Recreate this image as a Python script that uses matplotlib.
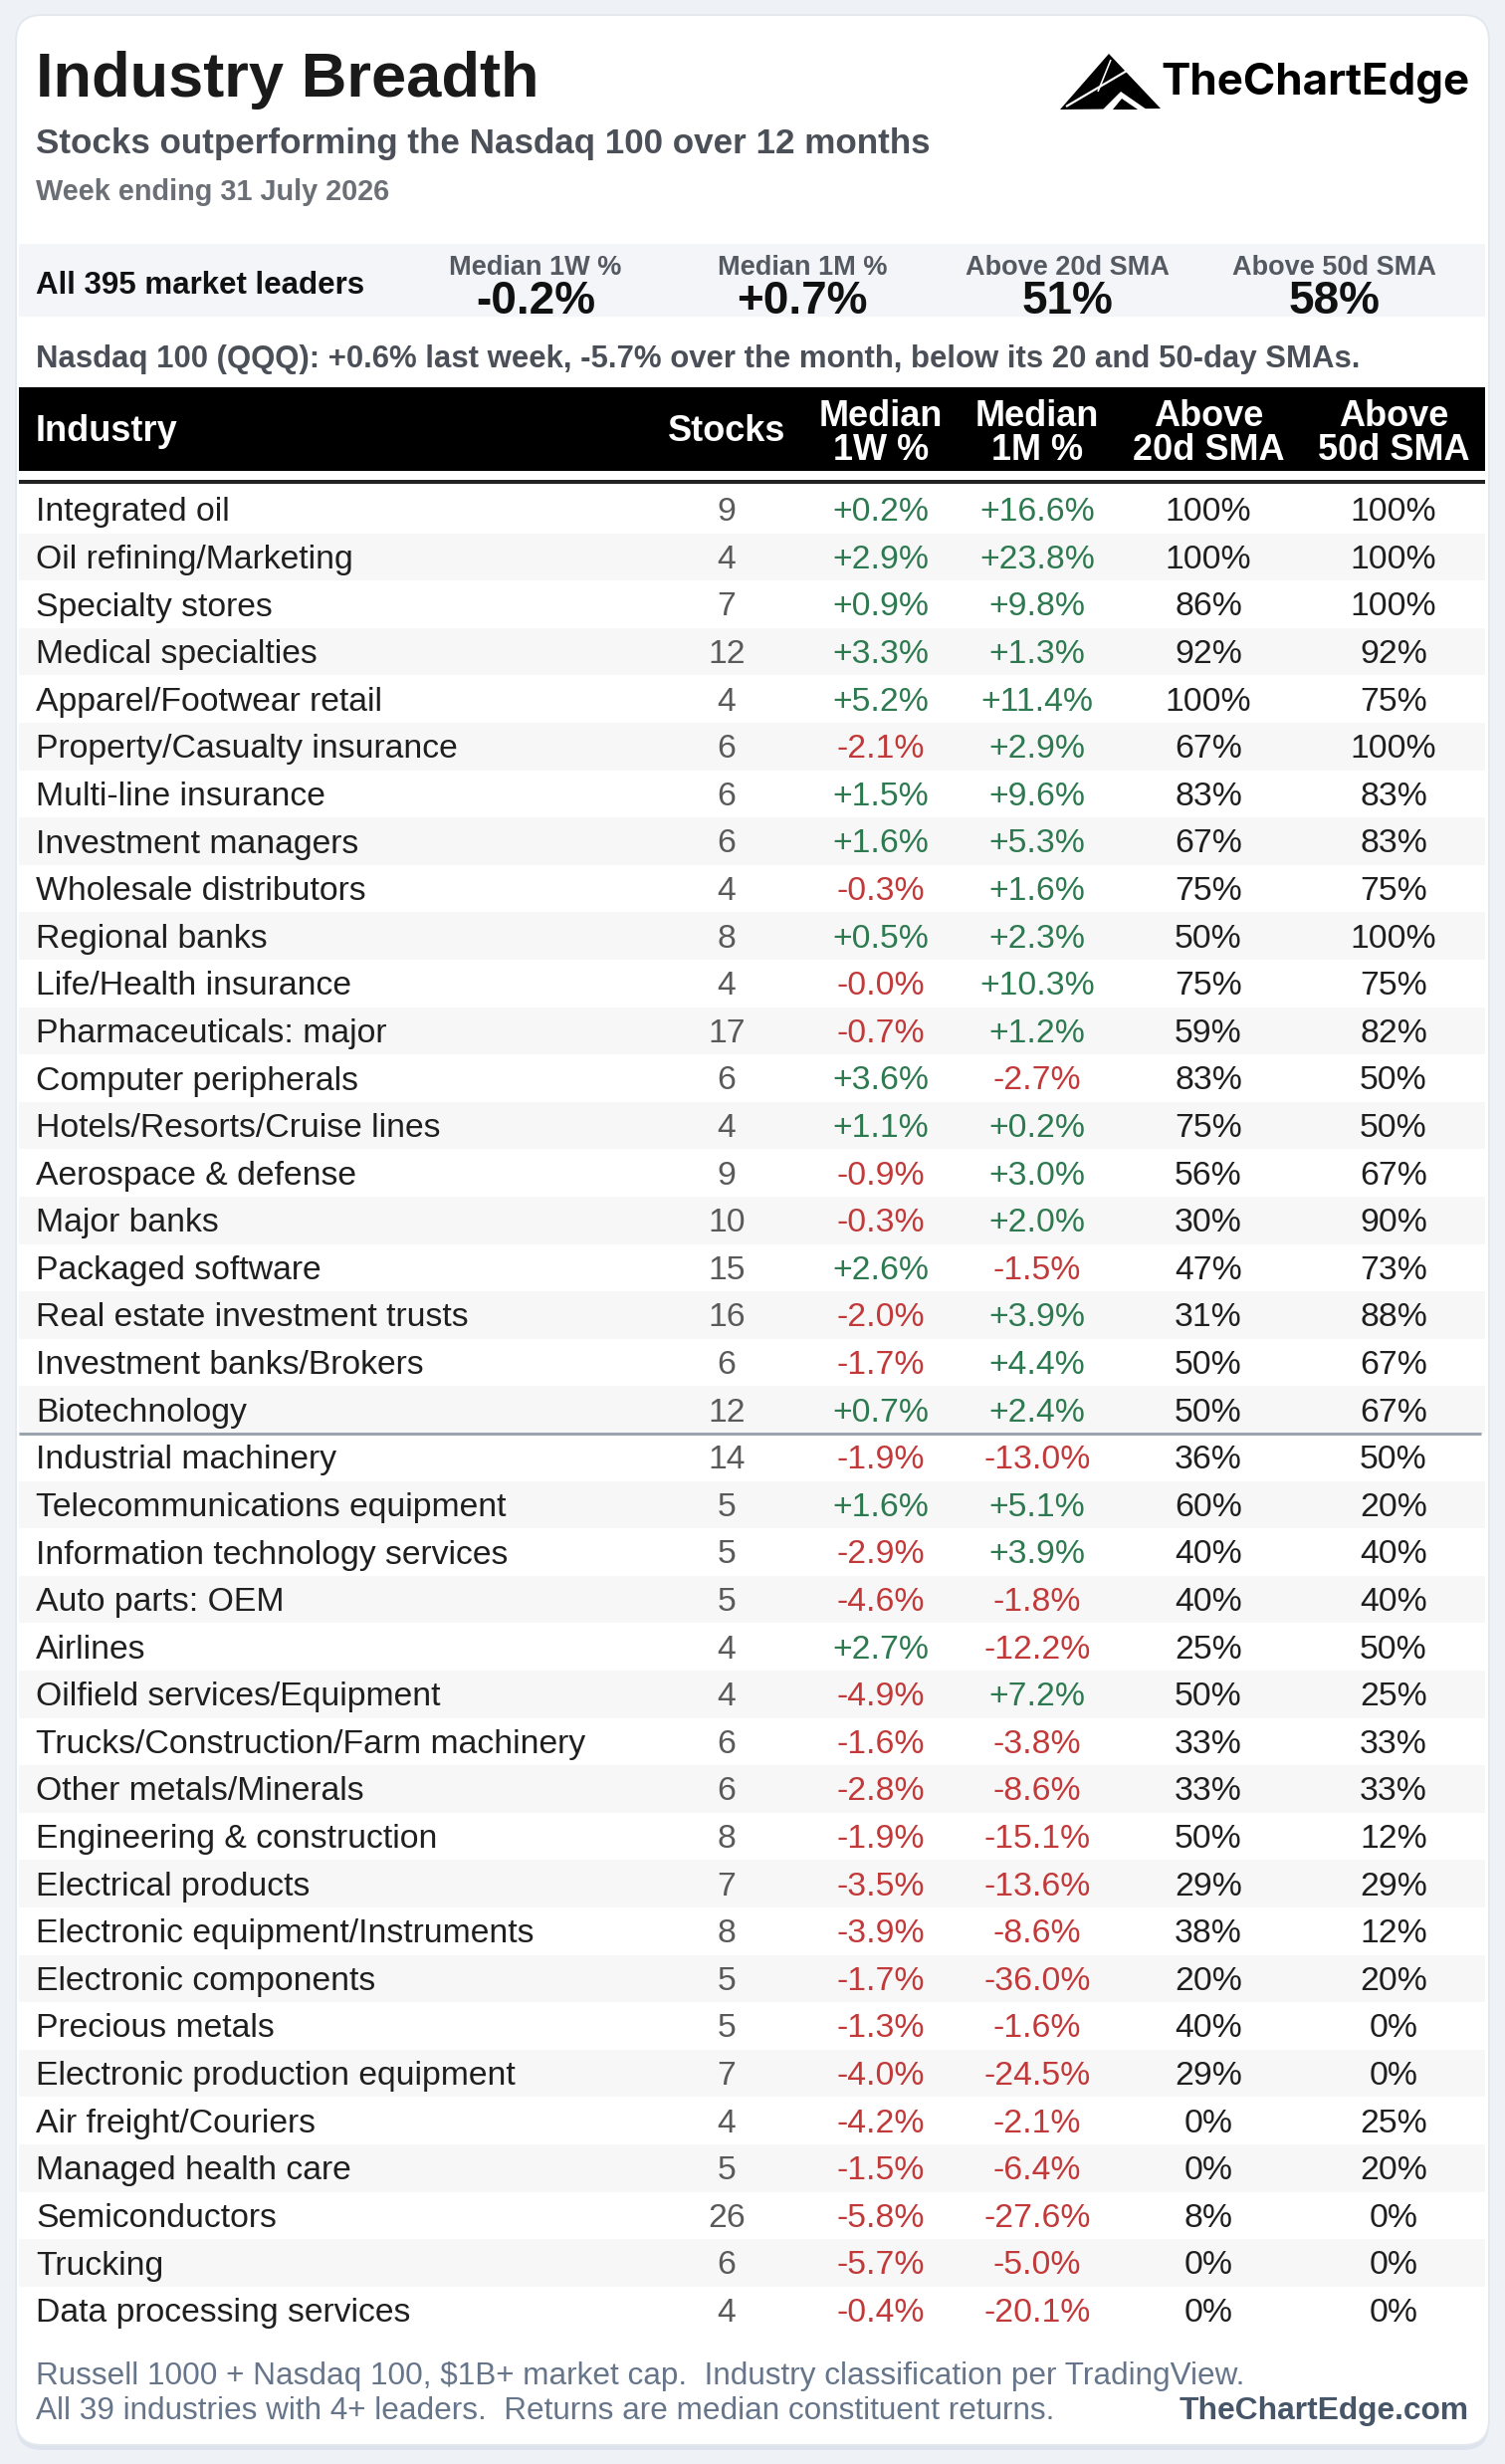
import numpy as np
import matplotlib.pyplot as plt
from matplotlib.patches import FancyBboxPatch, Rectangle, Polygon

# ---- data ----
industries = [
    "Integrated oil", "Oil refining/Marketing", "Specialty stores", "Medical specialties",
    "Apparel/Footwear retail", "Property/Casualty insurance", "Multi-line insurance",
    "Investment managers", "Wholesale distributors", "Regional banks", "Life/Health insurance",
    "Pharmaceuticals: major", "Computer peripherals", "Hotels/Resorts/Cruise lines",
    "Aerospace & defense", "Major banks", "Packaged software", "Real estate investment trusts",
    "Investment banks/Brokers", "Biotechnology", "Industrial machinery",
    "Telecommunications equipment", "Information technology services", "Auto parts: OEM",
    "Airlines", "Oilfield services/Equipment", "Trucks/Construction/Farm machinery",
    "Other metals/Minerals", "Engineering & construction", "Electrical products",
    "Electronic equipment/Instruments", "Electronic components", "Precious metals",
    "Electronic production equipment", "Air freight/Couriers", "Managed health care",
    "Semiconductors", "Trucking", "Data processing services",
]
stocks = [9, 4, 7, 12, 4, 6, 6, 6, 4, 8, 4, 17, 6, 4, 9, 10, 15, 16, 6, 12,
          14, 5, 5, 5, 4, 4, 6, 6, 8, 7, 8, 5, 5, 7, 4, 5, 26, 6, 4]
median_1w = [0.2, 2.9, 0.9, 3.3, 5.2, -2.1, 1.5, 1.6, -0.3, 0.5, -0.0, -0.7, 3.6, 1.1,
             -0.9, -0.3, 2.6, -2.0, -1.7, 0.7, -1.9, 1.6, -2.9, -4.6, 2.7, -4.9, -1.6,
             -2.8, -1.9, -3.5, -3.9, -1.7, -1.3, -4.0, -4.2, -1.5, -5.8, -5.7, -0.4]
median_1m = [16.6, 23.8, 9.8, 1.3, 11.4, 2.9, 9.6, 5.3, 1.6, 2.3, 10.3, 1.2, -2.7, 0.2,
             3.0, 2.0, -1.5, 3.9, 4.4, 2.4, -13.0, 5.1, 3.9, -1.8, -12.2, 7.2, -3.8,
             -8.6, -15.1, -13.6, -8.6, -36.0, -1.6, -24.5, -2.1, -6.4, -27.6, -5.0, -20.1]
above_20d = [100, 100, 86, 92, 100, 67, 83, 67, 75, 50, 75, 59, 83, 75, 56, 30, 47, 31, 50, 50,
             36, 60, 40, 40, 25, 50, 33, 33, 50, 29, 38, 20, 40, 29, 0, 0, 8, 0, 0]
above_50d = [100, 100, 100, 92, 75, 100, 83, 83, 75, 100, 75, 82, 50, 50, 67, 90, 73, 88, 67, 67,
             50, 20, 40, 40, 50, 25, 33, 33, 12, 29, 12, 20, 0, 0, 25, 20, 0, 0, 0]
split_after = 20  # divider line after the top group

summary_labels = ["Median 1W %", "Median 1M %", "Above 20d SMA", "Above 50d SMA"]
summary_values = ["-0.2%", "+0.7%", "51%", "58%"]

title = "Industry Breadth"
subtitle = "Stocks outperforming the Nasdaq 100 over 12 months"
week = "Week ending 31 July 2026"
universe = "All 395 market leaders"
nasdaq_note = "Nasdaq 100 (QQQ): +0.6% last week, -5.7% over the month, below its 20 and 50-day SMAs."
footer1 = "Russell 1000 + Nasdaq 100, $1B+ market cap.  Industry classification per TradingView."
footer2 = "All 39 industries with 4+ leaders.  Returns are median constituent returns."
brand = "TheChartEdge"
site = "TheChartEdge.com"

# ---- styling ----
FONT = "Liberation Sans"
GREEN = "#2e7a50"
RED = "#c2393a"
INK = "#1f1f1f"
GRAY_TXT = "#4a4f58"

W, H = 1512, 2475
fig = plt.figure(figsize=(W / 100, H / 100), dpi=100)
fig.patch.set_facecolor("#eef2f7")
ax = fig.add_axes([0, 0, 1, 1])
ax.set_xlim(0, W)
ax.set_ylim(H, 0)
ax.axis("off")


def txt(x, y, s, size, color=INK, weight="normal", ha="left", family=FONT):
    ax.text(x, y, s, fontsize=size, color=color, fontweight=weight, ha=ha,
            va="baseline", family=family)


def px(v):
    return v * 0.72  # pixel to points for line widths


# card
ax.add_patch(FancyBboxPatch((16, 18), 1480, 2443, boxstyle="round,pad=0,rounding_size=26",
                            fc="#dde3ec", ec="none"))
ax.add_patch(FancyBboxPatch((16, 15), 1480, 2441, boxstyle="round,pad=0,rounding_size=26",
                            fc="white", ec="#e3e8ef", lw=px(2)))

# title block
txt(36, 97, title, 45.5, color="#1a1a1a", weight="bold")
txt(36, 154, subtitle, 25.2, color=GRAY_TXT, weight="bold")
txt(36, 201, week, 20.8, color="#6b6f76", weight="bold")

# logo mark
ax.add_patch(Polygon([(1114, 54), (1065, 110), (1166, 109)], closed=True, fc="black", ec="none"))
ax.plot([1139, 1071], [67, 107], color="white", lw=px(2.2), solid_capstyle="butt")
ax.plot([1116, 1103], [60, 92], color="white", lw=px(1.6), solid_capstyle="butt")
ax.add_patch(Polygon([(1108, 110), (1126, 92), (1152, 110)], closed=True, fc="white", ec="none"))
ax.add_patch(Polygon([(1118, 110), (1127, 99), (1143, 110)], closed=True, fc="black", ec="none"))
txt(1166, 95, brand, 31.6, color="black", weight="bold", family="Inter")

# summary band
ax.add_patch(Rectangle((19, 245), 1473, 73, fc="#f3f5f9", ec="none"))
txt(36, 295, universe, 22.5, weight="bold", color="#111111")
summary_x = [538, 806, 1073, 1341]
for xc, lab, val in zip(summary_x, summary_labels, summary_values):
    txt(xc, 276, lab, 19.5, color="#555a62", weight="bold", ha="center")
    txt(xc, 315, val, 33, color="#111111", weight="bold", ha="center")

txt(36, 369, nasdaq_note, 22.4, color=GRAY_TXT, weight="bold")

# table header
ax.add_patch(Rectangle((19, 389), 1473, 84, fc="black", ec="none"))
col_x = [730, 885, 1042, 1214, 1400]
txt(36, 443, "Industry", 26, color="white", weight="bold")
txt(col_x[0], 443, "Stocks", 26, color="white", weight="bold", ha="center")
two_line = [("Median", "1W %"), ("Median", "1M %"), ("Above", "20d SMA"), ("Above", "50d SMA")]
for xc, (l1, l2) in zip(col_x[1:], two_line):
    txt(xc, 428, l1, 26, color="white", weight="bold", ha="center")
    txt(xc, 462, l2, 26, color="white", weight="bold", ha="center")
ax.plot([19, 1492], [483.5, 483.5], color="#222222", lw=px(4), solid_capstyle="butt")

# rows
row_top, row_h = 488, 47.6
for i, name in enumerate(industries):
    top = row_top + i * row_h
    if i % 2 == 1:
        ax.add_patch(Rectangle((19, top), 1473, row_h, fc="#f7f7f7", ec="none"))
    base = top + row_h / 2 + 11.5
    txt(36, base, name, 24.3, color=INK)
    txt(col_x[0], base, f"{stocks[i]}", 24.3, color="#5a5a5a", ha="center")
    for xc, v in ((col_x[1], median_1w[i]), (col_x[2], median_1m[i])):
        c = RED if np.signbit(v) else GREEN
        txt(xc, base, f"{v:+.1f}%", 24.3, color=c, ha="center")
    txt(col_x[3], base, f"{above_20d[i]}%", 24.3, color=INK, ha="center")
    txt(col_x[4], base, f"{above_50d[i]}%", 24.3, color=INK, ha="center")

div_y = row_top + split_after * row_h
ax.plot([19, 1488], [div_y, div_y], color="#9aa3ae", lw=px(3), solid_capstyle="butt")

# footer
txt(36, 2395, footer1, 22.7, color="#66758a")
txt(36, 2430, footer2, 22.7, color="#66758a")
txt(1476, 2430, site, 22.9, color="#475569", weight="bold", ha="right")

fig.savefig("out.png", dpi=100, facecolor=fig.get_facecolor())
